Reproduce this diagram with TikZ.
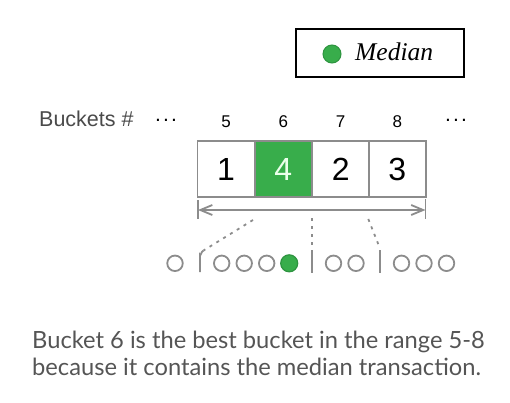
\documentclass[tikz,border=0pt]{standalone}
\usepackage{fontspec}
\setmainfont{Liberation Sans}
\newfontfamily\capfont{Lato}
\newfontfamily\serfont{Liberation Serif}
\usetikzlibrary{arrows.meta}
\definecolor{lgray}{HTML}{8C8C8C}
\definecolor{mgreen}{HTML}{38AD4B}
\definecolor{dgreen}{HTML}{2E9440}
\definecolor{txtgray}{HTML}{4A4A4A}
\definecolor{capgray}{HTML}{555555}
\newcommand\mydots{.\kern2.2pt.\kern2.2pt.}
\tikzset{
  cell/.style={draw=lgray, line width=1.8pt, minimum width=57pt, minimum height=56pt, inner sep=0pt, font=\fontsize{32}{34}\selectfont},
  txn/.style={circle, draw=lgray, line width=1.8pt, minimum size=15.5pt, inner sep=0pt},
  medtxn/.style={circle, draw=dgreen, fill=mgreen, line width=1.2pt, minimum size=17pt, inner sep=0pt},
  glink/.style={draw=lgray, line width=1.8pt},
  dlink/.style={draw=lgray, line width=1.8pt, dash pattern=on 3pt off 5pt},
  numlab/.style={anchor=base, inner sep=0pt, font=\fontsize{17}{19}\selectfont},
  dotlab/.style={anchor=base, inner sep=0pt, font=\fontsize{21}{22}\selectfont},
}
\begin{document}
\begin{tikzpicture}[x=1pt,y=-1pt]
\useasboundingbox (0,0) rectangle (510,402);
% legend
\node[draw=black, line width=2pt, minimum width=168pt, minimum height=48pt] (legend) at (380,53) {};
\node[circle, fill=mgreen, draw=dgreen, line width=1pt, minimum size=18pt, inner sep=0pt] (ldot) at (332,54) {};
\node[anchor=base west, inner sep=0pt, font=\serfont\itshape\fontsize{25.5}{27}\selectfont] (ltext) at (355,60.5) {Median};
% header
\node[anchor=base west, inner sep=0pt, text=txtgray, font=\fontsize{21.5}{23}\selectfont] (blabel) at (39,126) {Buckets \#};
\node[dotlab] (ldots) at (166,121.5) {\mydots};
\node[dotlab] (rdots) at (456,121.5) {\mydots};
\node[numlab] (n5) at (226,127) {5};
\node[numlab] (n6) at (283.3,127) {6};
\node[numlab] (n7) at (340.7,127) {7};
\node[numlab] (n8) at (397.3,127) {8};
% cells
\node[cell] (c1) at (226,169.3) {1};
\node[cell, fill=mgreen, text=white!92!green] (c2) at (283.3,169.3) {4};
\node[cell] (c3) at (340.7,169.3) {2};
\node[cell] (c4) at (397.3,169.3) {3};
% range arrow
\coordinate (al) at (198,210);
\coordinate (ar) at (425.5,210);
\coordinate (tlt) at (198,200);
\coordinate (tlb) at (198,219);
\coordinate (trt) at (425.5,199);
\coordinate (trb) at (425.5,219);
\draw[glink] (tlt) -- (tlb);
\draw[glink] (trt) -- (trb);
\draw[glink, {Straight Barb[length=12pt,width=10pt]}-{Straight Barb[length=12pt,width=10pt]}] (al) -- (ar);
% transactions
\node[txn] (t1) at (175,263.3) {};
\node[txn] (t2) at (221.7,263.3) {};
\node[txn] (t3) at (244.2,263.3) {};
\node[txn] (t4) at (266.7,263.3) {};
\node[medtxn] (t5) at (289.2,263.3) {};
\node[txn] (t6) at (333.5,263.3) {};
\node[txn] (t7) at (356,263.3) {};
\node[txn] (t8) at (401.5,263.3) {};
\node[txn] (t9) at (424,263.3) {};
\node[txn] (t10) at (446.5,263.3) {};
% separators
\coordinate (s1t) at (203.5,250.5);
\coordinate (s1b) at (200,272);
\coordinate (s2t) at (311.7,250);
\coordinate (s2b) at (311.7,272.7);
\coordinate (s3t) at (380,250);
\coordinate (s3b) at (380,273);
\draw[glink] (s1b) -- (200,255) to[out=-90,in=200] (s1t);
\draw[glink] (s2t) -- (s2b);
\draw[glink] (s3t) -- (s3b);
\coordinate (d1) at (253,220);
\coordinate (d2) at (311.7,218);
\coordinate (d3) at (368.3,219);
\draw[dlink] (d1) -- (s1t);
\draw[dlink] (d2) -- (311.7,246);
\draw[dlink] (d3) -- (379.4,247);
% caption
\node[anchor=base west, inner sep=0pt, text=capgray, font=\capfont\fontsize{23.7}{25}\selectfont] (cap1) at (32,348) {Bucket 6 is the best bucket in the range 5-8};
\node[anchor=base west, inner sep=0pt, text=capgray, font=\capfont\fontsize{23.7}{25}\selectfont] (cap2) at (32,375) {because it contains the median transaction.};
\end{tikzpicture}
\end{document}
